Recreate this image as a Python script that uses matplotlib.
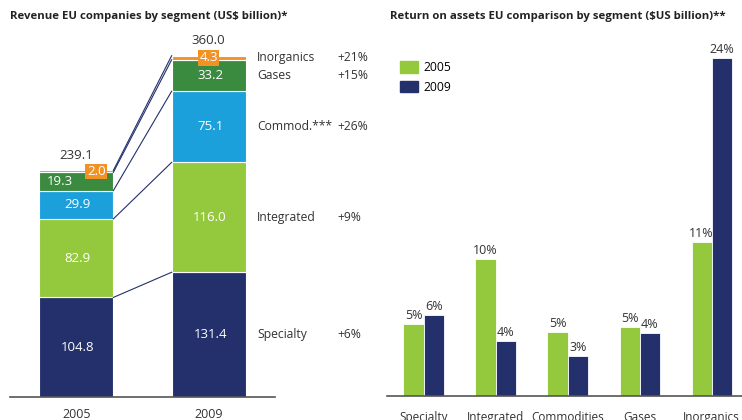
import matplotlib.pyplot as plt
from matplotlib.patches import Patch

plt.rcParams['font.family'] = ['Open Sans', 'DejaVu Sans']

# left chart: revenue by segment, bottom to top
segments = ['Specialty', 'Integrated', 'Commod.***', 'Gases', 'Inorganics']
growth = ['+6%', '+9%', '+26%', '+15%', '+21%']
years = ['2005', '2009']
rev_2005 = [104.8, 82.9, 29.9, 19.3, 2.0]
rev_2009 = [131.4, 116.0, 75.1, 33.2, 4.3]
totals = [239.1, 360.0]
seg_colors = ['#23306b', '#95c93d', '#1ba0db', '#3a8a3f', '#f39224']

# right chart: return on assets (heights)
roa_cats = ['Specialty', 'Integrated', 'Commodities', 'Gases', 'Inorganics']
roa_2005 = [5.1, 9.7, 4.55, 4.9, 10.9]
roa_2009 = [5.75, 3.9, 2.8, 4.45, 24.0]

navy = '#23306b'
green = '#95c93d'
txt = '#333333'

W, H = 742, 420
fig = plt.figure(figsize=(W / 100, H / 100), dpi=100)


def px_axes(x0, x1, ytop, ybot):
    return fig.add_axes([x0 / W, (H - ybot) / H, (x1 - x0) / W, (ybot - ytop) / H])


# ---------- left: stacked revenue ----------
ax = px_axes(10, 275, 40, 396.7)
bw = 0.56
xs = [0, 1]
bottoms = [0.0, 0.0]
tops_2005, tops_2009 = [], []
for i in range(len(segments)):
    vals = [rev_2005[i], rev_2009[i]]
    ax.bar(xs, vals, bw, bottom=bottoms, color=seg_colors[i], edgecolor='white', linewidth=0.8)
    centers = [bottoms[0] + vals[0] / 2, bottoms[1] + vals[1] / 2]
    if i < 4:
        for j in range(2):
            dx = -0.125 if (i == 3 and j == 0) else 0.01
            ax.text(xs[j] + dx, centers[j], f'{vals[j]:.1f}', color='white',
                    ha='center', va='center', fontsize=9.5)
    else:
        # small orange tags for inorganics
        for j, dx in zip(range(2), [0.15, 0.0]):
            ax.text(xs[j] + dx, centers[j], f'{vals[j]:.1f}', color='white',
                    ha='center', va='center', fontsize=9.5,
                    bbox=dict(boxstyle='square,pad=0.1', fc='#f39224', ec='none'))
    ax.text(1.364, centers[1], segments[i], color=txt, ha='left', va='center', fontsize=8.7)
    ax.text(1.975, centers[1], growth[i], color=txt, ha='left', va='center', fontsize=8.7)
    bottoms = [bottoms[0] + vals[0], bottoms[1] + vals[1]]
    tops_2005.append(bottoms[0])
    tops_2009.append(bottoms[1])

# connector lines between the stacks
for t0, t1 in zip(tops_2005, tops_2009):
    ax.plot([bw / 2, 1 - bw / 2], [t0, t1], color=navy, lw=0.8)

for j in range(2):
    ax.annotate(f'{totals[j]:.1f}', (xs[j], totals[j]), xytext=(0, 6),
                textcoords='offset points', ha='center', va='bottom',
                color=txt, fontsize=9.5)

ax.set_xlim(-0.5, 1.5)
ax.set_ylim(0, 376.6)
ax.set_xticks(xs)
ax.set_xticklabels(years, fontsize=9, color=txt)
ax.tick_params(length=0, pad=8)
ax.set_yticks([])
for s in ['top', 'right', 'left']:
    ax.spines[s].set_visible(False)
ax.spines['bottom'].set_color('#555555')
ax.spines['bottom'].set_linewidth(1.2)

fig.text(10 / W, 1 - 17 / H, 'Revenue EU companies by segment (US$ billion)*',
         fontsize=8.2, fontweight='bold', color='#222222', ha='left', va='center')

# ---------- right: return on assets ----------
ax2 = px_axes(387, 742, 40, 395.7)
gx = list(range(len(roa_cats)))
rw = 0.28
b1 = ax2.bar([x - rw / 2 for x in gx], roa_2005, rw, color=green, edgecolor='white', linewidth=0.6)
b2 = ax2.bar([x + rw / 2 for x in gx], roa_2009, rw, color=navy, edgecolor='white', linewidth=0.6)
for bars, vals in [(b1, roa_2005), (b2, roa_2009)]:
    for b, v in zip(bars, vals):
        ax2.annotate(f'{v:.0f}%', (b.get_x() + b.get_width() / 2, v), xytext=(0, 1.5),
                     textcoords='offset points', ha='center', va='bottom',
                     color=txt, fontsize=9)

ax2.set_xlim(-0.507, 4.42)
ax2.set_ylim(0, 25.3)
ax2.set_xticks(gx)
ax2.set_xticklabels(roa_cats, fontsize=8.5, color=txt)
ax2.tick_params(length=0, pad=11)
ax2.set_yticks([])
for s in ['top', 'right', 'left']:
    ax2.spines[s].set_visible(False)
ax2.spines['bottom'].set_color('#555555')
ax2.spines['bottom'].set_linewidth(1.2)

ax2.legend(handles=[Patch(color=green, label='2005'), Patch(color=navy, label='2009')],
           loc='upper left', bbox_to_anchor=(400 / W, 1 - 61 / H), bbox_transform=fig.transFigure,
           frameon=False, fontsize=8.7, handlelength=1.5, handleheight=1.1,
           handletextpad=0.4, labelspacing=0.55, borderaxespad=0, borderpad=0)

fig.text(390 / W, 1 - 17 / H, 'Return on assets EU comparison by segment ($US billion)**',
         fontsize=8.2, fontweight='bold', color='#222222', ha='left', va='center')

fig.savefig('out.png', dpi=100)
